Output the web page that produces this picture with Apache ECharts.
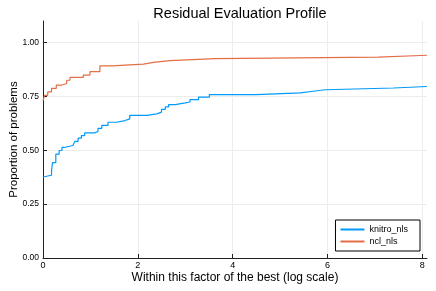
<!DOCTYPE html>
<html>
<head>
<meta charset="utf-8">
<script src="https://cdn.jsdelivr.net/npm/echarts@6/dist/echarts.min.js"></script>
<style>html,body{margin:0;padding:0;background:#fff}#c{width:436px;height:291px}</style>
</head>
<body>
<div id="c"></div>
<script>
const seriesNames = ['knitro_nls', 'ncl_nls'];
const knitroX = [0, 0.03, 0.18, 0.2, 0.27, 0.34, 0.4, 0.45, 0.63, 0.67, 0.74, 0.81, 0.88, 1.09, 1.16, 1.24, 1.37, 1.55, 1.73, 1.83, 2.19, 2.4, 2.5, 2.58, 2.65, 2.79, 3.0, 3.1, 3.28, 3.51, 4.5, 5.43, 5.7, 5.95, 7.39, 8.1];
const knitroY = [0.376, 0.384, 0.404, 0.443, 0.482, 0.499, 0.513, 0.522, 0.529, 0.541, 0.556, 0.568, 0.581, 0.587, 0.602, 0.616, 0.63, 0.638, 0.646, 0.662, 0.669, 0.677, 0.69, 0.701, 0.712, 0.72, 0.724, 0.735, 0.747, 0.758, 0.766, 0.774, 0.781, 0.789, 0.796, 0.796];
const nclX = [0, 0.036, 0.1, 0.18, 0.28, 0.39, 0.5, 0.57, 0.85, 0.99, 1.2, 1.45, 2.12, 2.33, 2.68, 3.63, 7.07, 8.1];
const nclY = [0.73, 0.755, 0.771, 0.787, 0.802, 0.81, 0.825, 0.838, 0.849, 0.865, 0.892, 0.9, 0.908, 0.916, 0.925, 0.932, 0.941, 0.941];
const xTicks = [0, 2, 4, 6, 8];
const yTicks = [0, 0.25, 0.5, 0.75, 1.0];

const zip = (xs, ys) => xs.map((x, i) => [x, ys[i]]);
const font = 'Liberation Sans, Arial, sans-serif';
const chart = echarts.init(document.getElementById('c'), null, {renderer: 'canvas'});
chart.setOption({
  animation: false,
  backgroundColor: '#fff',
  title: {
    text: 'Residual Evaluation Profile', left: 235, top: 1, textAlign: 'center',
    textStyle: {fontFamily: font, fontSize: 14.5, fontWeight: 'normal', color: '#000'}
  },
  legend: {
    data: seriesNames, orient: 'vertical', right: 16, bottom: 40,
    itemWidth: 24, itemHeight: 2, itemGap: 3, icon: 'rect',
    borderColor: '#000', borderWidth: 1, borderRadius: 0, padding: [5, 12, 5, 5],
    textStyle: {fontFamily: font, fontSize: 9, color: '#000'}, backgroundColor: '#fff'
  },
  grid: {left: 43, right: 9, top: 21, bottom: 33, outerBoundsMode: 'none', containLabel: false},
  xAxis: {
    type: 'value', min: 0, max: 8.1,
    name: 'Within this factor of the best (log scale)', nameLocation: 'middle', nameGap: 14,
    nameMoveOverlap: false,
    nameTextStyle: {fontFamily: font, fontSize: 12, color: '#000', verticalAlign: 'top'},
    axisLine: {show: true, lineStyle: {color: '#222', width: 1}},
    axisTick: {show: true, inside: true, length: 4, customValues: xTicks, lineStyle: {color: '#222'}},
    axisLabel: {customValues: xTicks, fontFamily: font, fontSize: 9, color: '#000', margin: 3},
    splitLine: {show: true, lineStyle: {color: '#ececec', width: 1}}
  },
  yAxis: {
    type: 'value', min: 0, max: 1.1,
    name: 'Proportion of problems', nameLocation: 'middle', nameGap: 23,
    nameMoveOverlap: false,
    nameTextStyle: {fontFamily: font, fontSize: 11.5, color: '#000'},
    axisLine: {show: true, lineStyle: {color: '#222', width: 1}},
    axisTick: {show: true, inside: true, length: 4, customValues: yTicks, lineStyle: {color: '#222'}},
    axisLabel: {customValues: yTicks, fontFamily: font, fontSize: 8.5, color: '#000', margin: 4,
      formatter: v => v.toFixed(2)},
    splitLine: {show: true, lineStyle: {color: '#ececec', width: 1}}
  },
  series: [
    {name: seriesNames[0], type: 'line', step: 'end', data: zip(knitroX, knitroY), showSymbol: false,
     color: '#009AFA', lineStyle: {width: 1.2, color: '#009AFA'}},
    {name: seriesNames[1], type: 'line', step: 'end', data: zip(nclX, nclY), showSymbol: false,
     color: '#E26F46', lineStyle: {width: 1.2, color: '#E26F46'}}
  ]
});
</script>
</body>
</html>
